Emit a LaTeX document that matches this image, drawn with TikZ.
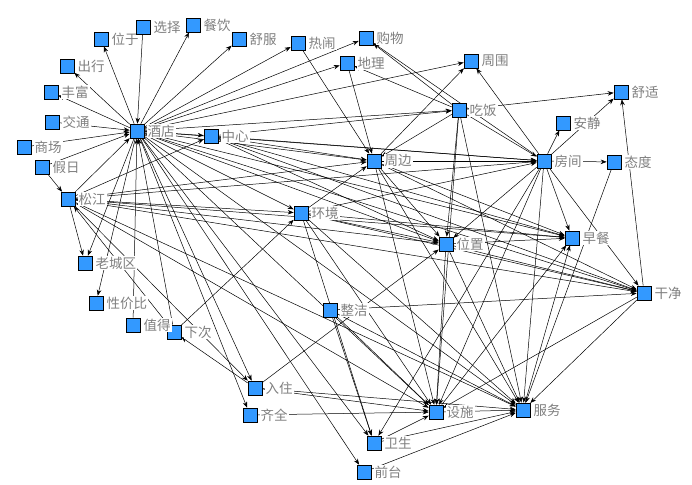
\documentclass[tikz,border=0pt]{standalone}
\usepackage{fontspec}
\newfontfamily\cjk{Noto Sans CJK SC}
\usetikzlibrary{arrows.meta, backgrounds}
\definecolor{netblue}{RGB}{51,153,255}
\definecolor{labelgray}{RGB}{128,128,128}

\begin{document}
\begin{tikzpicture}[x=1pt,y=-1pt,>={Stealth[length=6pt,width=4.5pt]},label distance=2pt]
\tikzstyle{term}=[rectangle,draw,fill=netblue,minimum size=14pt,inner sep=0pt,line width=0.6pt]
\tikzstyle{lbl}=[font=\cjk\fontsize{13.5}{14}\selectfont,text=labelgray,fill=white,inner sep=1pt]
\useasboundingbox (0,0) rectangle (692,484);

%-- Nodes: left part --
\node[term, label={[lbl]right:酒店}] (jiudian) at (137,131) {};
\node[term, label={[lbl]right:中心}] (zhongxin) at (211,136) {};
\node[term, label={[lbl]right:松江}] (songjiang) at (68,199) {};
\node[term, label={[lbl]right:环境}] (huanjing) at (301,213) {};
\node[term, label={[lbl]right:位于}] (weiyu) at (101,39) {};
\node[term, label={[lbl]right:选择}] (xuanze) at (143,27) {};
\node[term, label={[lbl]right:餐饮}] (canyin) at (193,25) {};
\node[term, label={[lbl]right:舒服}] (shufu) at (239,39) {};
\node[term, label={[lbl]right:热闹}] (renao) at (298,43) {};
\node[term, label={[lbl]right:出行}] (chuxing) at (67,66) {};
\node[term, label={[lbl]right:丰富}] (fengfu) at (51,92) {};
\node[term, label={[lbl]right:交通}] (jiaotong) at (52,122) {};
\node[term, label={[lbl]right:商场}] (shangchang) at (24,147) {};
\node[term, label={[lbl]right:假日}] (jiari) at (42,167) {};
\node[term, label={[lbl]right:老城区}] (laocheng) at (85,263) {};
\node[term, label={[lbl]right:性价比}] (xingjia) at (96,303) {};
\node[term, label={[lbl]right:下次}] (xiaci) at (174,332) {};
\node[term, label={[lbl]right:值得}] (zhide) at (133,325) {};
\node[term, label={[lbl]right:整洁}] (zhengjie) at (330,310) {};
\node[term, label={[lbl]right:入住}] (ruzhu) at (255,388) {};
\node[term, label={[lbl]right:齐全}] (qiquan) at (250,415) {};

%-- Nodes: right part --
\node[term, label={[lbl]right:购物}] (gouwu) at (366,38) {};
\node[term, label={[lbl]right:地理}] (dili) at (347,63) {};
\node[term, label={[lbl]right:周围}] (zhouwei) at (471,61) {};
\node[term, label={[lbl]right:舒适}] (shushi) at (621,92) {};
\node[term, label={[lbl]right:吃饭}] (chifan) at (459,110) {};
\node[term, label={[lbl]right:安静}] (anjing) at (563,123) {};
\node[term, label={[lbl]right:周边}] (zhoubian) at (374,161) {};
\node[term, label={[lbl]right:房间}] (fangjian) at (544,161) {};
\node[term, label={[lbl]right:态度}] (taidu) at (614,162) {};
\node[term, label={[lbl]right:早餐}] (zaocan) at (572,238) {};
\node[term, label={[lbl]right:位置}] (weizhi) at (446,244) {};
\node[term, label={[lbl]right:干净}] (ganjing) at (644,293) {};
\node[term, label={[lbl]right:设施}] (sheshi) at (436,412) {};
\node[term, label={[lbl]right:服务}] (fuwu) at (523,410) {};
\node[term, label={[lbl]right:卫生}] (weisheng) at (374,443) {};
\node[term, label={[lbl]right:前台}] (qiantai) at (364,472) {};

%-- Links --
\begin{scope}[on background layer]
\path[->,line width=0.5pt]
  % 酒店
  (jiudian) edge (weiyu)
  (jiudian) edge (canyin)
  (jiudian) edge (shufu)
  (jiudian) edge (renao)
  (jiudian) edge (chuxing)
  (jiudian) edge (fengfu)
  (jiudian) edge (dili)
  (jiudian) edge (gouwu)
  (jiudian) edge (zhouwei)
  (jiudian) edge (chifan)
  (jiudian) edge (zhongxin)
  (jiudian) edge (zhoubian)
  (jiudian) edge (fangjian)
  (jiudian) edge (huanjing)
  (jiudian) edge (weizhi)
  (jiudian) edge (zaocan)
  (jiudian) edge (ganjing)
  (jiudian) edge (sheshi)
  (jiudian) edge (fuwu)
  (jiudian) edge (ruzhu)
  (jiudian) edge (qiquan)
  (jiudian) edge (weisheng)
  (jiudian) edge (qiantai)
  (jiudian) edge (laocheng)
  (jiudian) edge (xingjia)

  % into 酒店
  (xuanze) edge (jiudian)
  (jiaotong) edge (jiudian)
  (shangchang) edge (jiudian)
  (jiari) edge (jiudian)
  (zhide) edge (jiudian)
  (xiaci) edge (jiudian)
  (songjiang) edge (jiudian)
  (jiari) edge (songjiang)

  % 中心
  (zhongxin) edge (zhoubian)
  (zhongxin) edge (fangjian)
  (zhongxin) edge (chifan)
  (zhongxin) edge (weizhi)
  (zhongxin) edge (ganjing)
  (zhongxin) edge (zaocan)

  % 松江
  (songjiang) edge (zhongxin)
  (songjiang) edge (laocheng)
  (songjiang) edge (zhoubian)
  (songjiang) edge (fangjian)
  (songjiang) edge (huanjing)
  (songjiang) edge (weizhi)
  (songjiang) edge (zaocan)
  (songjiang) edge (ganjing)
  (songjiang) edge (sheshi)
  (songjiang) edge (fuwu)
  (songjiang) edge (ruzhu)
  (xiaci) edge (songjiang)

  % 环境
  (huanjing) edge (zhoubian)
  (huanjing) edge (weizhi)
  (huanjing) edge (fangjian)
  (huanjing) edge (zaocan)
  (huanjing) edge (ganjing)
  (huanjing) edge (sheshi)
  (huanjing) edge (fuwu)
  (huanjing) edge (weisheng)
  (xiaci) edge (huanjing)

  % 周边
  (zhoubian) edge (zhouwei)
  (zhoubian) edge (fangjian)
  (zhoubian) edge (weizhi)
  (zhoubian) edge (zaocan)
  (zhoubian) edge (ganjing)
  (zhoubian) edge (sheshi)
  (zhoubian) edge (fuwu)
  (renao) edge (zhoubian)
  (dili) edge (zhoubian)

  % 吃饭
  (chifan) edge (shushi)
  (chifan) edge (dili)
  (chifan) edge (gouwu)
  (chifan) edge (zhoubian)
  (chifan) edge (fangjian)
  (chifan) edge (weizhi)
  (chifan) edge (sheshi)
  (chifan) edge (fuwu)

  % 房间
  (fangjian) edge (anjing)
  (fangjian) edge (taidu)
  (fangjian) edge (shushi)
  (fangjian) edge (zhouwei)
  (fangjian) edge (gouwu)
  (fangjian) edge (zaocan)
  (fangjian) edge (ganjing)
  (fangjian) edge (weizhi)
  (fangjian) edge (sheshi)
  (fangjian) edge (fuwu)
  (fangjian) edge (weisheng)

  % 位置
  (weizhi) edge (zaocan)
  (weizhi) edge (ganjing)
  (weizhi) edge (sheshi)
  (weizhi) edge (fuwu)

  % 整洁
  (zhengjie) edge (ganjing)
  (zhengjie) edge (sheshi)
  (zhengjie) edge (fuwu)
  (zhengjie) edge (weisheng)

  % 入住, 齐全
  (ruzhu) edge (xiaci)
  (ruzhu) edge (weizhi)
  (ruzhu) edge (sheshi)
  (ruzhu) edge (fuwu)
  (qiquan) edge (sheshi)

  % 干净, 态度
  (ganjing) edge (shushi)
  (ganjing) edge (sheshi)
  (ganjing) edge (fuwu)
  (taidu) edge (fuwu)

  % 设施, 服务, 卫生, 前台
  (sheshi) edge (fuwu)
  (sheshi) edge (zaocan)
  (fuwu) edge (zaocan)
  (weisheng) edge (sheshi)
  (weisheng) edge (fuwu)
  (qiantai) edge (fuwu);
\end{scope}
\end{tikzpicture}
\end{document}
